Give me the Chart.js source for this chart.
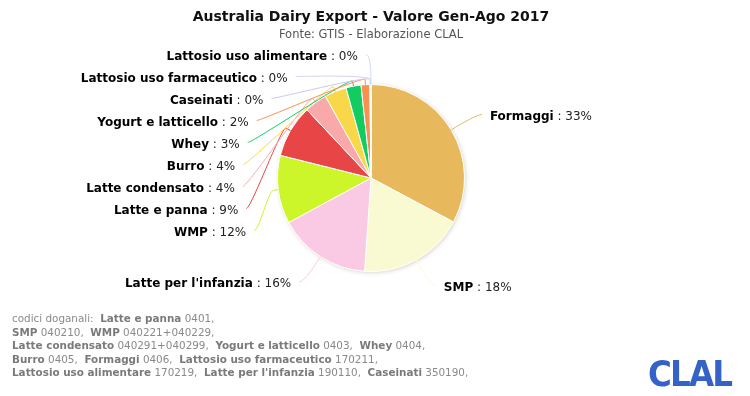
<!DOCTYPE html>
<html><head><meta charset="utf-8">
<script src="https://cdn.jsdelivr.net/npm/chart.js@4/dist/chart.umd.min.js"></script>
<style>
html,body{margin:0;padding:0;background:#fff;}
#wrap{position:relative;width:750px;height:396px;overflow:hidden;}
#c{position:absolute;left:0;top:0;}
#foot{position:absolute;left:12px;top:312px;font:10.4px "DejaVu Sans",sans-serif;color:#8a8a8a;line-height:13.6px;white-space:pre;}
#foot b{color:#7a7a7a;}
#logo{position:absolute;left:648px;top:354px;font:bold 35px "DejaVu Sans",sans-serif;color:#3462c6;letter-spacing:-2px;transform:scaleX(0.93);transform-origin:left top;line-height:40px;}
</style></head><body>
<div id="wrap"><canvas id="c" width="750" height="396"></canvas><div id="foot"></div><div id="logo">CLAL</div></div>
<script>
// ---- data ----
const categories = ["Formaggi","SMP","Latte per l'infanzia","WMP","Latte e panna","Latte condensato","Burro","Whey","Yogurt e latticello","Caseinati","Lattosio uso farmaceutico","Lattosio uso alimentare"];
const values = [32.8, 18.3, 16.0, 11.8, 9.1, 3.9, 3.8, 2.6, 1.5, 0.12, 0.05, 0.03];
const colors = ["#e8b85c","#fafad2","#fac9e3","#ccf52a","#e84646","#f9a9a9","#f8d848","#12cc62","#f89050","#c6c8f2","#d6d2f0","#c8dcee"];
const title = "Australia Dairy Export - Valore Gen-Ago 2017";
const subtitle = "Fonte: GTIS - Elaborazione CLAL";
const footIntro = "codici doganali:";
const codeNames = ["Latte e panna","SMP","WMP","Latte condensato","Yogurt e latticello","Whey","Burro","Formaggi","Lattosio uso farmaceutico","Lattosio uso alimentare","Latte per l'infanzia","Caseinati"];
const codeValues = ["0401","040210","040221+040229","040291+040299","0403","0404","0405","0406","170211","170219","190110","350190"];
const footLineBreaks = [1,3,6,9,12];

// ---- footer ----
(function(){
  const f=document.getElementById('foot');
  let html=footIntro+'  ', k=0;
  footLineBreaks.forEach((end,li)=>{
    const parts=[];
    for(;k<end;k++) parts.push('<b>'+codeNames[k]+'</b> '+codeValues[k]+',');
    html+=parts.join('  ');
    if(li<footLineBreaks.length-1) html+='\n';
  });
  f.innerHTML=html;
})();

// ---- titles ----
const titles={
  id:'titles',
  afterDraw(chart){
    const ctx=chart.ctx,cx=(chart.chartArea.left+chart.chartArea.right)/2;
    ctx.save();ctx.textAlign='center';ctx.textBaseline='middle';
    ctx.fillStyle='#111';ctx.font='bold 14px "DejaVu Sans"';ctx.fillText(title,cx,17);
    ctx.fillStyle='#555';ctx.font='11.5px "DejaVu Sans"';ctx.fillText(subtitle,cx,35);
    ctx.restore();
  }
};

// ---- label plugin (Highcharts-like connectors) ----
const pieLabels={
  id:'pieLabels',
  beforeDatasetsDraw(chart){
    const el=chart.getDatasetMeta(0).data[0];
    const ctx=chart.ctx;ctx.save();
    ctx.beginPath();ctx.arc(el.x,el.y,el.outerRadius,0,Math.PI*2);
    ctx.shadowColor='rgba(90,70,40,0.25)';ctx.shadowBlur=4;ctx.shadowOffsetX=1;ctx.shadowOffsetY=1;
    ctx.fillStyle='#fff';ctx.fill();ctx.restore();
  },
  afterDatasetsDraw(chart){
    const meta=chart.getDatasetMeta(0);
    const data=chart.data.datasets[0].data;
    const total=data.reduce((a,b)=>a+b,0);
    const ctx=chart.ctx;
    const D=30,PAD=5,CO=Math.min(PAD,D/2),GAP=22,TX=13;
    const items=meta.data.map((el,i)=>{
      const a=(el.startAngle+el.endAngle)/2,cos=Math.cos(a),sin=Math.sin(a),r=el.outerRadius;
      return {i,cx:el.x,cy:el.y,r,left:cos<0,y:el.y+sin*(r+D),
        p2:[el.x+cos*(r+CO),el.y+sin*(r+CO)],p4:[el.x+cos*r,el.y+sin*r]};
    });
    [true,false].forEach(side=>{
      const arr=items.filter(o=>o.left===side).sort((a,b)=>a.y-b.y);
      let prev=-1e9;
      arr.forEach(o=>{o.y=Math.max(o.y,prev+GAP);prev=o.y;});
    });
    ctx.save();
    items.forEach(o=>{
      const R=o.r+D;
      const s=Math.max(-1,Math.min(1,(o.y-o.cy)/R));
      const x=o.cx+(o.left?-1:1)*Math.cos(Math.asin(s))*R;
      const y=o.y;
      ctx.beginPath();
      ctx.strokeStyle=colors[o.i];ctx.lineWidth=1;
      ctx.moveTo(x+(o.left?-PAD:PAD),y);
      ctx.bezierCurveTo(x,y,2*o.p2[0]-o.p4[0],2*o.p2[1]-o.p4[1],o.p2[0],o.p2[1]);
      ctx.lineTo(o.p4[0],o.p4[1]);
      ctx.stroke();
      const name=categories[o.i];
      const pct=' : '+Math.round(data[o.i]/total*100)+'%';
      ctx.textBaseline='middle';
      ctx.font='bold 12px "DejaVu Sans"';
      const wn=ctx.measureText(name).width;
      ctx.font='12px "DejaVu Sans"';
      const wp=ctx.measureText(pct).width;
      const x0=o.left? x-TX-wn-wp : x+TX;
      ctx.textAlign='left';
      ctx.fillStyle='#000';
      ctx.font='bold 12px "DejaVu Sans"';
      ctx.fillText(name,x0,y+2);
      ctx.fillStyle='#222';
      ctx.font='12px "DejaVu Sans"';
      ctx.fillText(pct,x0+wn,y+2);
    });
    ctx.restore();
  }
};

new Chart(document.getElementById('c'),{
  type:'pie',
  data:{labels:categories,datasets:[{data:values,backgroundColor:colors,borderColor:'#ffffff',borderWidth:1,hoverOffset:0}]},
  options:{
    responsive:false,animation:false,devicePixelRatio:1,
    layout:{padding:{left:277,right:285,top:84,bottom:124}},
    plugins:{legend:{display:false},tooltip:{enabled:false},title:{display:false},subtitle:{display:false}}
  },
  plugins:[pieLabels,titles]
});
</script>
</body></html>
